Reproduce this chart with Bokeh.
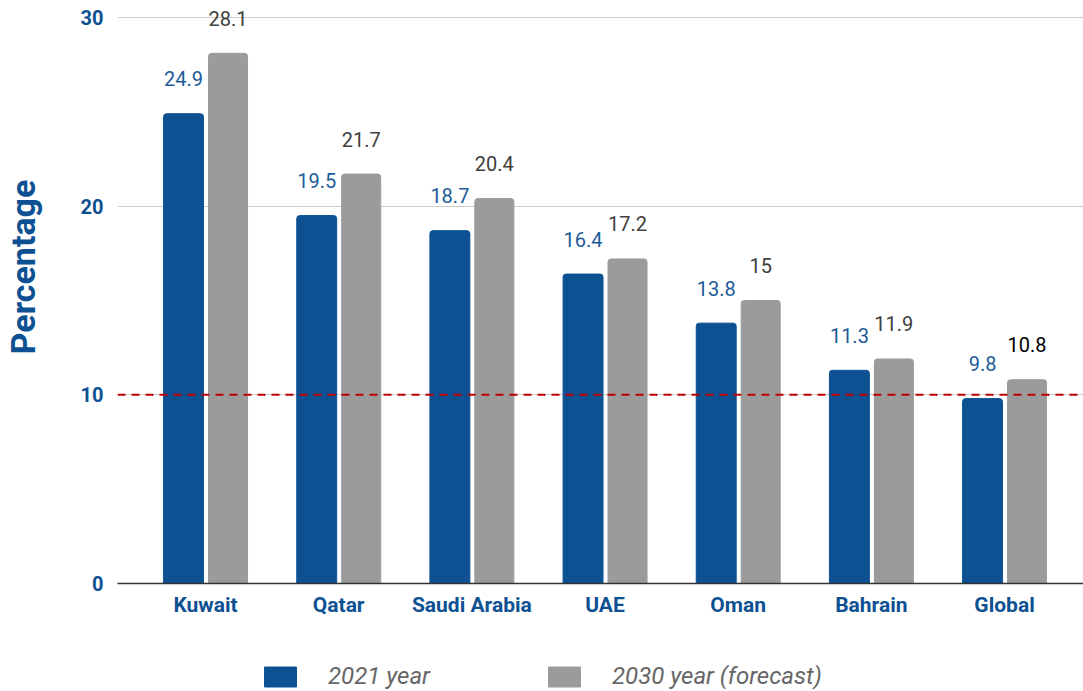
from bokeh.plotting import figure
from bokeh.layouts import column, row
from bokeh.models import (ColumnDataSource, Range1d, FixedTicker, Span, Legend,
                          LegendItem, LabelSet, Label)
from bokeh.core.properties import value
from bokeh.transform import dodge
from bokeh.embed import file_html
from bokeh.resources import INLINE

countries = ["Kuwait", "Qatar", "Saudi Arabia", "UAE", "Oman", "Bahrain", "Global"]
y2021 = [24.9, 19.5, 18.7, 16.4, 13.8, 11.3, 9.8]
y2030 = [28.1, 21.7, 20.4, 17.2, 15.0, 11.9, 10.8]
y_ticks = [0, 10, 20, 30]
threshold = 10
series_names = ["2021 year", "2030 year (forecast)"]
y_title = "Percentage"

BLUE = "#0d5193"
GRAY = "#9b9b9b"
FONT = "Roboto"

idx = list(range(len(countries)))
src = ColumnDataSource(dict(
    x=idx,
    a=y2021,
    b=y2030,
    la=[f"{v:g}" for v in y2021],
    lb=[f"{v:g}" for v in y2030],
    cb=["#404040"] * (len(countries) - 1) + ["#000000"],
))

# ---- main chart -------------------------------------------------------
p = figure(width=1023, height=640, output_backend="svg", toolbar_location=None,
           x_range=Range1d(-0.661, len(countries) - 0.407), y_range=Range1d(0, 30.9),
           min_border_left=57, min_border_right=0, min_border_top=0,
           min_border_bottom=57)
p.outline_line_color = None
p.background_fill_color = "white"

r1 = p.vbar(x=dodge("x", -0.165, range=p.x_range), top="a", width=0.3, source=src,
            color=BLUE, border_radius=(3, 3, 0, 0))
r2 = p.vbar(x=dodge("x", 0.169, range=p.x_range), top="b", width=0.293, source=src,
            color=GRAY, border_radius=(3, 3, 0, 0))

la = LabelSet(x=dodge("x", -0.165, range=p.x_range), y="a", text="la", source=src,
              y_offset=35, text_align="center", text_baseline="middle",
              text_font=value(FONT), text_font_size="20px", text_color="#1c5b99")
lb = LabelSet(x=dodge("x", 0.169, range=p.x_range), y="b", text="lb", source=src,
              y_offset=35, text_align="center", text_baseline="middle",
              text_font=value(FONT), text_font_size="20px", text_color="cb")
p.add_layout(la)
p.add_layout(lb)

p.add_layout(Span(location=threshold, dimension="width", line_color="#c00000",
                  line_dash="8 6", line_width=2))

p.xaxis.ticker = FixedTicker(ticks=idx)
p.xaxis.major_label_overrides = {i: c for i, c in zip(idx, countries)}
p.xaxis.major_tick_line_color = None
p.xaxis.major_tick_out = 0
p.xaxis.minor_tick_line_color = None
p.xaxis.axis_line_color = "#333333"
p.xaxis.axis_line_width = 1.5
p.xaxis.major_label_text_font = FONT
p.xaxis.major_label_text_font_style = "bold"
p.xaxis.major_label_text_font_size = "21px"
p.xaxis.major_label_text_color = BLUE
p.xaxis.major_label_standoff = 9

p.yaxis.ticker = FixedTicker(ticks=y_ticks)
p.yaxis.axis_line_color = None
p.yaxis.major_tick_line_color = None
p.yaxis.major_tick_out = 0
p.yaxis.minor_tick_line_color = None
p.yaxis.major_label_text_font = FONT
p.yaxis.major_label_text_font_style = "bold"
p.yaxis.major_label_text_font_size = "20px"
p.yaxis.major_label_text_color = BLUE
p.yaxis.major_label_standoff = 14

p.xgrid.grid_line_color = None
p.ygrid.grid_line_color = "#cccccc"
p.ygrid.grid_line_width = 1

# ---- y-axis title strip --------------------------------------------------
pl = figure(width=60, height=640, output_backend="svg", toolbar_location=None,
            x_range=Range1d(0, 1), y_range=Range1d(0, 1),
            x_axis_type=None, y_axis_type=None,
            min_border_left=0, min_border_right=0, min_border_top=0,
            min_border_bottom=57)
pl.outline_line_color = None
pl.xgrid.grid_line_color = None
pl.ygrid.grid_line_color = None
pl.add_layout(Label(x=22, y=316.5, x_units="screen", y_units="screen",
                    text=y_title, angle=90, angle_units="deg",
                    text_align="center", text_baseline="middle",
                    text_font=FONT, text_font_style="bold",
                    text_font_size="34px", text_color=BLUE))

# ---- legend strip -----------------------------------------------------------
p2 = figure(width=1023, height=51, output_backend="svg", toolbar_location=None,
            x_range=Range1d(0, 1), y_range=Range1d(0, 1),
            x_axis_type=None, y_axis_type=None,
            min_border_left=57, min_border_right=0, min_border_top=0,
            min_border_bottom=0)
p2.outline_line_color = None
p2.xgrid.grid_line_color = None
p2.ygrid.grid_line_color = None
k1 = p2.vbar(x=[-5], top=[0], width=0.1, color=BLUE)
k2 = p2.vbar(x=[-5], top=[0], width=0.1, color=GRAY)

legend = Legend(items=[LegendItem(label=series_names[0], renderers=[k1]),
                       LegendItem(label=series_names[1], renderers=[k2])],
                orientation="horizontal", location=(143, 1),
                glyph_width=40, glyph_height=25, label_standoff=28, spacing=114,
                padding=0, margin=0, border_line_color=None,
                background_fill_alpha=0,
                label_text_font=FONT, label_text_font_style="italic",
                label_text_font_size="24px", label_text_color="#666666",
                label_height=25)
p2.add_layout(legend)

layout = row(pl, column(p, p2, spacing=0), spacing=0)
open("out.html", "w").write(file_html(layout, INLINE))
